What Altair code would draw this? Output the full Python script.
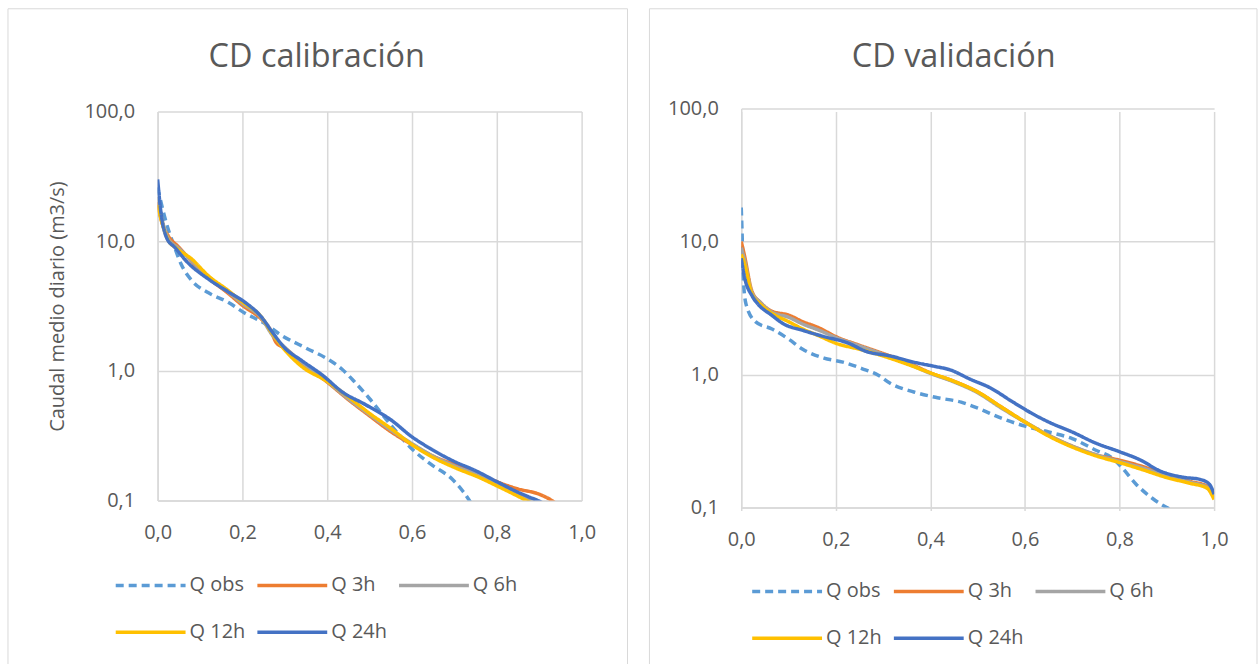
import altair as alt
import pandas as pd

SERIES = ["Q obs", "Q 3h", "Q 6h", "Q 12h", "Q 24h"]
COLORS = ["#5B9BD5", "#ED7D31", "#A5A5A5", "#FFC000", "#4472C4"]
DASHES = [[8, 5], [1, 0], [1, 0], [1, 0], [1, 0]]
X_TICKS = [0.0, 0.2, 0.4, 0.6, 0.8, 1.0]
Y_TICKS = [0.1, 1, 10, 100]

# ---- CD calibración ----
P_OBS_CAL = [0, 0.005, 0.02, 0.04, 0.055, 0.08, 0.12, 0.165, 0.205, 0.25, 0.29, 0.35, 0.4, 0.435, 0.465, 0.5, 0.54, 0.6, 0.645, 0.695, 0.72, 0.74, 0.76]
Q_OBS_CAL = [26, 22, 14, 9.0, 6.7, 5.0, 4.0, 3.4, 2.8, 2.35, 1.9, 1.5, 1.24, 1.03, 0.82, 0.61, 0.42, 0.25, 0.19, 0.146, 0.118, 0.095, 0.075]
P_3H_CAL = [0, 0.01, 0.025, 0.05, 0.08, 0.12, 0.165, 0.2, 0.245, 0.265, 0.28, 0.3, 0.34, 0.4, 0.45, 0.5, 0.55, 0.6, 0.65, 0.7, 0.76, 0.8, 0.85, 0.9, 0.93, 0.945]
Q_3H_CAL = [20, 14, 11, 9.0, 7.0, 5.2, 4.0, 3.2, 2.5, 2.1, 1.65, 1.5, 1.15, 0.82, 0.6, 0.45, 0.34, 0.27, 0.22, 0.19, 0.16, 0.14, 0.123, 0.112, 0.1, 0.092]
P_6H_CAL = [0, 0.01, 0.025, 0.05, 0.08, 0.12, 0.165, 0.2, 0.245, 0.27, 0.3, 0.34, 0.4, 0.45, 0.5, 0.55, 0.6, 0.65, 0.7, 0.76, 0.8, 0.85, 0.88, 0.9]
Q_6H_CAL = [22, 15, 10.5, 8.8, 7.1, 5.3, 4.1, 3.3, 2.55, 1.9, 1.52, 1.17, 0.83, 0.61, 0.46, 0.35, 0.275, 0.22, 0.185, 0.155, 0.133, 0.112, 0.1, 0.093]
P_12H_CAL = [0, 0.01, 0.025, 0.045, 0.08, 0.12, 0.165, 0.2, 0.245, 0.27, 0.3, 0.34, 0.4, 0.45, 0.5, 0.55, 0.6, 0.65, 0.7, 0.76, 0.8, 0.85, 0.87, 0.89]
Q_12H_CAL = [19, 14, 10.2, 8.8, 7.3, 5.4, 4.2, 3.4, 2.6, 1.95, 1.45, 1.08, 0.83, 0.63, 0.47, 0.36, 0.27, 0.215, 0.18, 0.15, 0.13, 0.108, 0.1, 0.092]
P_24H_CAL = [0, 0.008, 0.022, 0.04, 0.07, 0.12, 0.165, 0.205, 0.245, 0.27, 0.3, 0.34, 0.39, 0.435, 0.49, 0.55, 0.6, 0.645, 0.7, 0.75, 0.8, 0.85, 0.875, 0.905, 0.92]
Q_24H_CAL = [30, 16.5, 10.5, 9.0, 6.9, 5.1, 4.1, 3.4, 2.6, 2.0, 1.5, 1.2, 0.92, 0.69, 0.55, 0.42, 0.31, 0.25, 0.2, 0.17, 0.14, 0.116, 0.107, 0.097, 0.09]

# ---- CD validación ----
P_OBS_VAL = [0, 0.002, 0.004, 0.01, 0.03, 0.065, 0.1, 0.13, 0.175, 0.215, 0.255, 0.29, 0.315, 0.365, 0.415, 0.465, 0.5, 0.55, 0.6, 0.65, 0.7, 0.75, 0.785, 0.805, 0.835, 0.87, 0.9, 0.92]
Q_OBS_VAL = [18, 11, 5.6, 3.4, 2.5, 2.2, 1.85, 1.55, 1.33, 1.24, 1.11, 0.99, 0.86, 0.74, 0.67, 0.62, 0.56, 0.47, 0.41, 0.37, 0.33, 0.27, 0.235, 0.2, 0.15, 0.117, 0.1, 0.093]
P_MOD_VAL = [0, 0.006, 0.023, 0.04, 0.064, 0.1, 0.13, 0.165, 0.2, 0.25, 0.3, 0.35, 0.4, 0.45, 0.5, 0.55, 0.6, 0.65, 0.7, 0.75, 0.8, 0.85, 0.9, 0.95, 0.985, 1.0]
Q_3H_VAL = [10, 8.1, 4.2, 3.5, 3.0, 2.8, 2.5, 2.24, 1.93, 1.66, 1.44, 1.24, 1.03, 0.89, 0.74, 0.57, 0.44, 0.35, 0.29, 0.25, 0.227, 0.203, 0.175, 0.157, 0.145, 0.126]
Q_6H_VAL = [9.0, 7.5, 4.1, 3.5, 2.95, 2.7, 2.4, 2.15, 1.9, 1.64, 1.42, 1.22, 1.02, 0.88, 0.73, 0.56, 0.44, 0.35, 0.29, 0.25, 0.222, 0.198, 0.172, 0.155, 0.142, 0.12]
Q_12H_VAL = [8.0, 7.0, 4.0, 3.4, 2.9, 2.5, 2.2, 1.95, 1.72, 1.55, 1.38, 1.2, 1.03, 0.89, 0.74, 0.57, 0.44, 0.345, 0.285, 0.245, 0.218, 0.192, 0.168, 0.152, 0.14, 0.115]
P_24H_VAL = [0, 0.006, 0.023, 0.035, 0.064, 0.09, 0.13, 0.175, 0.225, 0.265, 0.315, 0.365, 0.41, 0.44, 0.485, 0.525, 0.575, 0.615, 0.65, 0.7, 0.75, 0.8, 0.845, 0.885, 0.935, 0.97, 0.99, 1.0]
Q_24H_VAL = [7.5, 5.6, 3.9, 3.4, 2.8, 2.4, 2.15, 1.93, 1.73, 1.49, 1.38, 1.24, 1.15, 1.09, 0.92, 0.8, 0.62, 0.51, 0.44, 0.37, 0.305, 0.263, 0.227, 0.189, 0.169, 0.163, 0.15, 0.126]

FONT = "Open Sans"
TXT = "#595959"
GRID = "#d9d9d9"
LABEL_EXPR = "replace(format(datum.value, '.1f'), '.', ',')"


def build_df(pairs):
    rows = []
    for name, (ps, qs) in zip(SERIES, pairs):
        for p, q in zip(ps, qs):
            rows.append({"serie": name, "p": p, "q": q})
    return pd.DataFrame(rows)


def panel(df, title, dx, toff, w, h, yrange, ytitle, lx, ly, box):
    leg = alt.Legend(
        title=None, orient="none", legendX=lx, legendY=ly, columns=3,
        direction="horizontal",
        symbolType="stroke", symbolSize=4900, symbolStrokeWidth=3.5,
        labelFont=FONT, labelFontSize=20, labelColor=TXT, labelOffset=2,
        columnPadding=5, rowPadding=-28, labelLimit=200,
    )
    x_axis = alt.Axis(
        values=X_TICKS, labelExpr=LABEL_EXPR, title=None, ticks=False,
        labelPadding=22, labelFlush=False, labelOverlap=False,
        domainColor=GRID, gridColor=GRID, domainWidth=1.5, gridWidth=1.5,
        labelFont=FONT, labelFontSize=20, labelColor=TXT,
    )
    y_kwargs = dict(
        values=Y_TICKS, labelExpr=LABEL_EXPR, ticks=False, labelPadding=23,
        labelOverlap=False, domainColor=GRID, gridColor=GRID, domainWidth=1.5,
        gridWidth=1.5, labelFont=FONT, labelFontSize=20, labelColor=TXT,
    )
    if ytitle:
        y_axis = alt.Axis(title=ytitle, titleFont=FONT, titleFontSize=20,
                          titleFontWeight="normal", titleColor=TXT,
                          titlePadding=16, **y_kwargs)
    else:
        y_axis = alt.Axis(title=None, **y_kwargs)

    lines = alt.Chart(df).mark_line(strokeWidth=3.5, clip=True, interpolate="monotone").encode(
        x=alt.X("p:Q", scale=alt.Scale(domain=[0, 1], nice=False), axis=x_axis),
        y=alt.Y("q:Q", scale=alt.Scale(type="log", domain=[0.1, 100], nice=False, range=yrange), axis=y_axis),
        color=alt.Color("serie:N", scale=alt.Scale(domain=SERIES, range=COLORS), legend=leg),
        strokeDash=alt.StrokeDash("serie:N", scale=alt.Scale(domain=SERIES, range=DASHES), legend=leg),
    )
    border = alt.Chart(alt.Data(values=[{}])).mark_rect(filled=False, stroke=GRID, strokeWidth=1).encode(
        x=alt.value(box[0]), x2=alt.value(box[1]), y=alt.value(box[2]), y2=alt.value(box[3]),
    )
    return alt.layer(border, lines).properties(
        width=w, height=h,
        title=alt.Title(title, font=FONT, fontSize=32.5, fontWeight="normal", color=TXT,
                        anchor="middle", frame="group", dx=dx, offset=toff),
    )


df_cal = build_df([
    (P_OBS_CAL, Q_OBS_CAL), (P_3H_CAL, Q_3H_CAL), (P_6H_CAL, Q_6H_CAL),
    (P_12H_CAL, Q_12H_CAL), (P_24H_CAL, Q_24H_CAL),
])
df_val = build_df([
    (P_OBS_VAL, Q_OBS_VAL), (P_MOD_VAL, Q_3H_VAL), (P_MOD_VAL, Q_6H_VAL),
    (P_MOD_VAL, Q_12H_VAL), (P_24H_VAL, Q_24H_VAL),
])

left = panel(df_cal, "CD calibración", -53, -65, 425, 390, [390, 0],
             "Caudal medio diario (m3/s)", -44, 438, (-150, 471, -103, 556))
right = panel(df_val, "CD validación", -24, -65, 474, 397, [397, -3], None,
              9, 444, (-92, 517, -103, 556))

chart = alt.hconcat(left, right, spacing=20).resolve_scale(
    x="independent", y="independent", color="independent", strokeDash="independent"
).properties(
    padding={"left": 7, "top": 7, "right": 0, "bottom": 0},
    background="white",
).configure_view(stroke=None)

chart.save("out.html", embed_options={"renderer": "svg", "actions": False})
